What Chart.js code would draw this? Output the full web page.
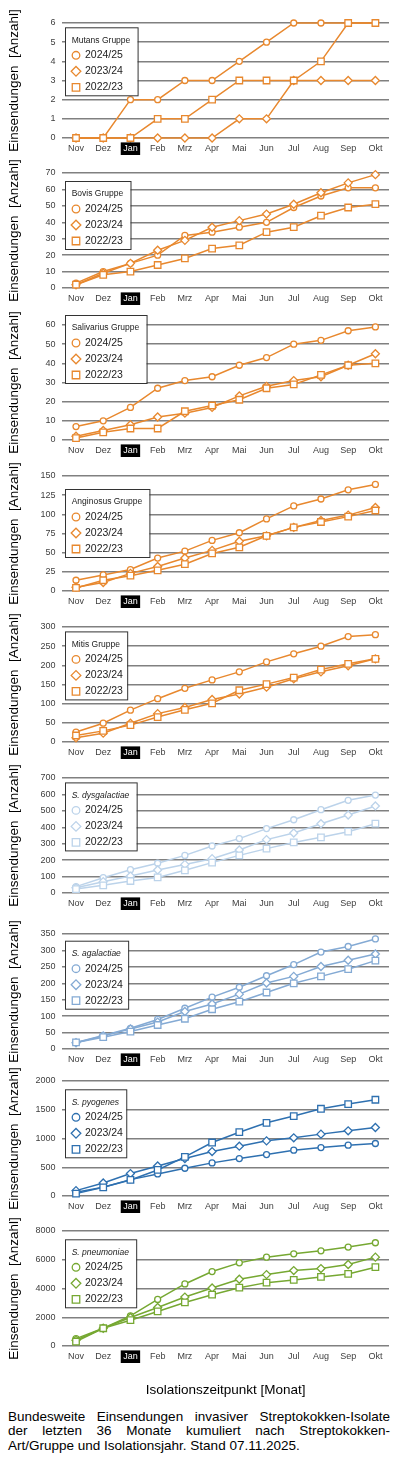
<!DOCTYPE html>
<html lang="de">
<head>
<meta charset="utf-8">
<script src="https://cdn.jsdelivr.net/npm/chart.js@4.4.1/dist/chart.umd.min.js"></script>
<style>
  html, body { margin: 0; padding: 0; background: #fff; }
  body { width: 400px; height: 1468px; position: relative; overflow: hidden; font-family: "Liberation Sans", Arial, sans-serif; }
  canvas { position: absolute; left: 0; }
  #caption { position: absolute; left: 8px; top: 1410px; width: 382px; font-size: 13.5px; line-height: 14.3px; color: #000; }
  #caption div { text-align: justify; text-align-last: justify; white-space: nowrap; }
  #caption div.last { text-align-last: left; }
</style>
</head>
<body>
<div id="caption">
  <div>Bundesweite Einsendungen invasiver Streptokokken-Isolate</div>
  <div>der letzten 36 Monate kumuliert nach Streptokokken-</div>
  <div class="last">Art/Gruppe und Isolationsjahr. Stand 07.11.2025.</div>
</div>
<script>
// Monate und Saisons
const months = ['Nov', 'Dez', 'Jan', 'Feb', 'Mrz', 'Apr', 'Mai', 'Jun', 'Jul', 'Aug', 'Sep', 'Okt'];
const seasons = ['2024/25', '2023/24', '2022/23'];

// Kumulierte Einsendungen je Gruppe/Art (2024/25, 2023/24, 2022/23)
const mutans2425 = [0, 0, 2, 2, 3, 3, 4, 5, 6, 6, 6, 6];
const mutans2324 = [0, 0, 0, 0, 0, 0, 1, 1, 3, 3, 3, 3];
const mutans2223 = [0, 0, 0, 1, 1, 2, 3, 3, 3, 4, 6, 6];

const bovis2425 = [3, 10, 15, 20, 32, 34, 37, 40, 49, 56, 61, 61];
const bovis2324 = [2, 9, 15, 23, 29, 37, 41, 45, 51, 58, 64, 69];
const bovis2223 = [2, 8, 10, 14, 18, 24, 26, 34, 37, 44, 49, 51];

const salivarius2425 = [7, 10, 17, 27, 31, 33, 39, 43, 50, 52, 57, 59];
const salivarius2324 = [2, 5, 8, 12, 14, 17, 23, 28, 31, 33, 39, 45];
const salivarius2223 = [1, 4, 6, 6, 15, 18, 21, 27, 29, 34, 39, 40];

const anginosus2425 = [14, 21, 28, 43, 52, 66, 76, 94, 111, 120, 132, 139];
const anginosus2324 = [5, 11, 23, 32, 43, 53, 65, 72, 83, 92, 99, 109];
const anginosus2223 = [4, 14, 20, 27, 35, 49, 57, 72, 83, 90, 97, 105];

const mitis2425 = [26, 49, 83, 113, 140, 162, 183, 209, 230, 250, 275, 280];
const mitis2324 = [11, 23, 49, 74, 90, 111, 125, 143, 165, 183, 199, 217];
const mitis2223 = [17, 29, 44, 65, 84, 101, 135, 151, 168, 189, 204, 217];

const dysgal2425 = [39, 93, 142, 181, 229, 286, 331, 392, 446, 507, 564, 596];
const dysgal2324 = [32, 69, 103, 140, 174, 209, 262, 325, 365, 422, 475, 530];
const dysgal2223 = [24, 47, 73, 95, 138, 185, 229, 270, 308, 339, 373, 422];

const agal2425 = [20, 41, 63, 90, 124, 158, 188, 223, 257, 295, 312, 335];
const agal2324 = [19, 40, 61, 82, 114, 137, 167, 201, 221, 251, 270, 289];
const agal2223 = [20, 36, 53, 73, 92, 121, 144, 172, 200, 221, 243, 269];

const pyo2425 = [64, 151, 285, 384, 483, 576, 651, 721, 797, 843, 884, 913];
const pyo2324 = [93, 227, 390, 523, 651, 773, 866, 959, 1012, 1076, 1134, 1192];
const pyo2223 = [41, 151, 279, 453, 680, 930, 1110, 1273, 1390, 1517, 1599, 1674];

const pneu2425 = [513, 1236, 2099, 3242, 4315, 5178, 5784, 6181, 6414, 6624, 6880, 7183];
const pneu2324 = [396, 1236, 1982, 2682, 3405, 4035, 4641, 4968, 5248, 5388, 5667, 6181];
const pneu2223 = [303, 1236, 1796, 2402, 3032, 3568, 4058, 4408, 4595, 4804, 5014, 5481];

const ORANGE = '#E8882E';
const panels = [
  { title: 'Mutans Gruppe', italic: false, color: ORANGE, max: 6, step: 1, data: [mutans2425, mutans2324, mutans2223] },
  { title: 'Bovis Gruppe', italic: false, color: ORANGE, max: 70, step: 10, data: [bovis2425, bovis2324, bovis2223] },
  { title: 'Salivarius Gruppe', italic: false, color: ORANGE, max: 60, step: 10, data: [salivarius2425, salivarius2324, salivarius2223] },
  { title: 'Anginosus Gruppe', italic: false, color: ORANGE, max: 150, step: 25, data: [anginosus2425, anginosus2324, anginosus2223] },
  { title: 'Mitis Gruppe', italic: false, color: ORANGE, max: 300, step: 50, data: [mitis2425, mitis2324, mitis2223] },
  { title: 'S. dysgalactiae', italic: true, color: '#BCD3EA', max: 700, step: 100, data: [dysgal2425, dysgal2324, dysgal2223] },
  { title: 'S. agalactiae', italic: true, color: '#84AAD4', max: 350, step: 50, data: [agal2425, agal2324, agal2223] },
  { title: 'S. pyogenes', italic: true, color: '#2E70B0', max: 2000, step: 500, data: [pyo2425, pyo2324, pyo2223] },
  { title: 'S. pneumoniae', italic: true, color: '#76A832', max: 8000, step: 2000, data: [pneu2425, pneu2324, pneu2223] }
];

// Layout (Pixel)
const gridTops = [22.7, 172.7, 325, 476, 627.3, 778.3, 934.3, 1080.7, 1230.7];
const legendOffsets = [4.3, 8, -10, 13, 4.4, 4.4, 6.7, 8.3, 8.3];
const FONT = '"Liberation Sans", Arial, sans-serif';
const PAD_TOP = 40;
const PLOT_H = 115;

const styles = [
  { pointStyle: 'circle', radius: 3, legendRadius: 3.8 },
  { pointStyle: 'rectRot', radius: 4, legendRadius: 4.8 },
  { pointStyle: 'rect', radius: 4.6, legendRadius: 5.3 }
];

Chart.defaults.font.family = FONT;

// "Jan" schwarz hinterlegt
const janPlugin = {
  id: 'janBox',
  afterDraw(chart) {
    const ctx = chart.ctx;
    const xs = chart.scales.x;
    const x = xs.getPixelForValue(2);
    const y = chart.chartArea.bottom + 10.7;
    ctx.save();
    ctx.fillStyle = '#000';
    ctx.fillRect(x - 9.7, y - 6.3, 19.4, 12.6);
    ctx.fillStyle = '#fff';
    ctx.font = '9px ' + FONT;
    ctx.textAlign = 'center';
    ctx.textBaseline = 'middle';
    ctx.fillText(months[2], x, y);
    ctx.restore();
  }
};

// Legende mit Rahmen im Diagramm
const boxLegend = {
  id: 'boxLegend',
  afterDraw(chart, args, opts) {
    const ctx = chart.ctx;
    const left = chart.chartArea.left + 2.6;
    const top = chart.chartArea.top + opts.offset;
    ctx.save();
    ctx.font = (opts.italic ? 'italic ' : '') + '8.5px ' + FONT;
    const tw = ctx.measureText(opts.title).width;
    const w = Math.max(tw + 14, 60);
    const h = 68;
    ctx.fillStyle = '#fff';
    ctx.fillRect(left, top, w, h);
    ctx.strokeStyle = '#333';
    ctx.lineWidth = 1;
    ctx.strokeRect(left + 0.5, top + 0.5, w, h);
    ctx.fillStyle = '#222';
    ctx.textBaseline = 'middle';
    ctx.textAlign = 'left';
    ctx.fillText(opts.title, left + 6.7, top + 13);
    ctx.font = '10.5px ' + FONT;
    seasons.forEach((s, i) => {
      const y = top + 28 + i * 16;
      ctx.strokeStyle = opts.color;
      ctx.fillStyle = '#fff';
      ctx.lineWidth = 1.3;
      Chart.helpers.drawPoint(ctx, {
        pointStyle: styles[i].pointStyle,
        radius: styles[i].legendRadius,
        rotation: 0,
        borderWidth: 1.3
      }, left + 11, y);
      ctx.fillStyle = '#222';
      ctx.fillText(s, left + 20, y);
    });
    ctx.restore();
  }
};

panels.forEach((p, idx) => {
  const last = idx === panels.length - 1;
  const xh = last ? 56 : 20;
  const canvas = document.createElement('canvas');
  canvas.width = 400;
  canvas.height = PAD_TOP + PLOT_H + xh;
  canvas.style.top = (gridTops[idx] - PAD_TOP) + 'px';
  document.body.appendChild(canvas);

  // 2022/23 zuletzt gezeichnet (oben)
  const datasets = [2, 1, 0].map(i => ({
    label: seasons[i],
    data: p.data[i],
    borderColor: p.color,
    backgroundColor: '#fff',
    borderWidth: 1.5,
    pointStyle: styles[i].pointStyle,
    pointRadius: styles[i].radius,
    pointBorderWidth: 1.3,
    pointBackgroundColor: '#fff',
    pointBorderColor: p.color,
    tension: 0,
    clip: false
  }));

  new Chart(canvas.getContext('2d'), {
    type: 'line',
    data: { labels: months, datasets },
    options: {
      responsive: false,
      animation: false,
      devicePixelRatio: 1,
      layout: { padding: { top: PAD_TOP, right: 11, left: 0, bottom: 0 } },
      plugins: {
        legend: { display: false },
        tooltip: { enabled: false },
        boxLegend: { title: p.title, italic: p.italic, color: p.color, offset: legendOffsets[idx] }
      },
      scales: {
        x: {
          offset: true,
          grid: { display: false, drawTicks: false },
          border: { display: false },
          ticks: { color: '#404040', font: { size: 9 }, padding: 5.3, maxRotation: 0, autoSkip: false },
          title: {
            display: last,
            text: 'Isolationszeitpunkt [Monat]',
            color: '#000',
            font: { size: 13.5 },
            padding: { top: 0, bottom: 4 }
          },
          afterFit: s => { s.height = xh; }
        },
        y: {
          min: 0,
          max: p.max,
          ticks: { stepSize: p.step, color: '#404040', font: { size: 9 }, padding: 7, callback: v => String(v) },
          grid: { color: '#808080', lineWidth: 1.5, drawTicks: false },
          border: { display: false },
          title: {
            display: true,
            text: 'Einsendungen  [Anzahl]',
            color: '#000',
            font: { size: 13.5 },
            padding: { top: 6, bottom: 0 }
          },
          afterFit: s => { s.width = 62.4; }
        }
      }
    },
    plugins: [janPlugin, boxLegend]
  });
});
</script>
</body>
</html>
